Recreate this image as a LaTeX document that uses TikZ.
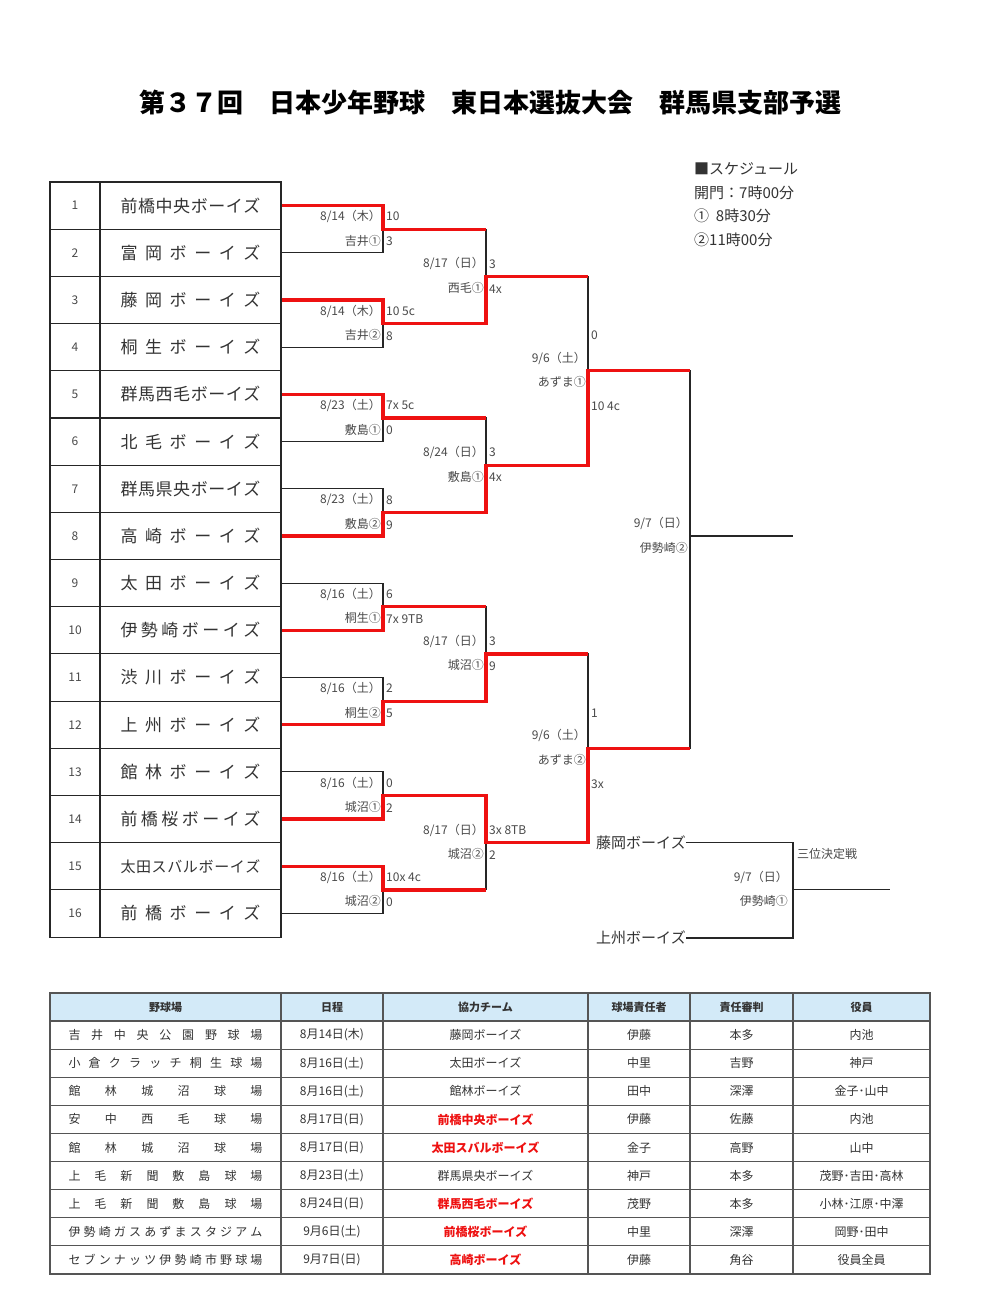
\documentclass[tikz,border=0pt]{standalone}
\usepackage{fontspec}
\setmainfont{Noto Sans CJK JP}
\definecolor{txt}{HTML}{333333}
\definecolor{lblc}{HTML}{4A4A4A}
\definecolor{wred}{HTML}{EE1111}
\definecolor{hdr}{HTML}{D3EAF8}
\definecolor{gridc}{HTML}{555555}
\makeatletter
\newcommand\sprd[2]{\makebox[#1][s]{\def\sprd@sep{}\@tfor\sprd@c:=#2\do{\sprd@sep\sprd@c\def\sprd@sep{\hfill}}}}
\makeatother
\begin{document}
\begin{tikzpicture}[x=1pt,y=-1pt,
  blk/.style={line width=1.1pt, draw=black!85},
  win/.style={line width=3.2pt, draw=wred, line join=miter},
  numcell/.style={draw=black!85, line width=1.1pt, minimum width=50, minimum height=47.19, inner sep=0pt, text=lblc, font=\fontsize{12}{12}\selectfont},
  namecell/.style={draw=black!85, line width=1.1pt, minimum width=181, minimum height=47.19, inner sep=0pt, text=txt},
  lbl/.style={inner sep=0pt, text=lblc, font=\fontsize{12}{12}\selectfont},
  sched/.style={inner sep=0pt, anchor=west, text=txt, font=\fontsize{15}{15}\selectfont},
  tcell/.style={draw=gridc, line width=1.2pt, inner sep=0pt, minimum height=28.11, text=txt, font=\fontsize{12}{12}\selectfont},
  hcell/.style={tcell, fill=hdr, font=\fontsize{11}{11}\selectfont\bfseries}
]
\path[fill=white, use as bounding box] (0,0) rectangle (998,1314);

% title
\node[inner sep=0pt, text=black, font=\fontsize{26}{26}\selectfont\bfseries] (title) at (490,103) {第３７回　日本少年野球　東日本選抜大会　群馬県支部予選};

% schedule
\node[sched] (sc1) at (694,169) {■スケジュール};
\node[sched] (sc2) at (694,193) {開門：7時00分};
\node[sched] (sc3) at (694,216) {①\ \ 8時30分};
\node[sched] (sc4) at (694,240) {②11時00分};

% team table
\newcommand\team[3]{%
 \node[numcell] (n#1) at (75, {182+(#1-0.5)*47.19}) {#1};
 \node[namecell] (t#1) at (190.5, {182+(#1-0.5)*47.19}) {\fontsize{#3}{#3}\selectfont\sprd{140pt}{#2}};
}
\team{1}{前橋中央ボーイズ}{17}
\team{2}{富岡ボーイズ}{17}
\team{3}{藤岡ボーイズ}{17}
\team{4}{桐生ボーイズ}{17}
\team{5}{群馬西毛ボーイズ}{17}
\team{6}{北毛ボーイズ}{17}
\team{7}{群馬県央ボーイズ}{17}
\team{8}{高崎ボーイズ}{17}
\team{9}{太田ボーイズ}{17}
\team{10}{伊勢崎ボーイズ}{17}
\team{11}{渋川ボーイズ}{17}
\team{12}{上州ボーイズ}{17}
\team{13}{館林ボーイズ}{17}
\team{14}{前橋桜ボーイズ}{17}
\team{15}{太田スバルボーイズ}{15}
\team{16}{前橋ボーイズ}{17}

% junctions
\coordinate (a1) at (383,229.2);
\coordinate (a2) at (383,323.6);
\coordinate (a3) at (383,418.0);
\coordinate (a4) at (383,512.4);
\coordinate (a5) at (383,606.7);
\coordinate (a6) at (383,701.1);
\coordinate (a7) at (383,795.5);
\coordinate (a8) at (383,889.9);
\coordinate (b1) at (486,276.4);
\coordinate (b2) at (486,465.2);
\coordinate (b3) at (486,653.9);
\coordinate (b4) at (486,842.7);
\coordinate (c1) at (588,370.8);
\coordinate (c2) at (588,748.3);
\coordinate (f) at (690,536);
\coordinate (fe) at (793,536);

% black bracket
\draw[blk] (t1.east) -| (a1) |- (t2.east);
\draw[blk] (t3.east) -| (a2) |- (t4.east);
\draw[blk] (t5.east) -| (a3) |- (t6.east);
\draw[blk] (t7.east) -| (a4) |- (t8.east);
\draw[blk] (t9.east) -| (a5) |- (t10.east);
\draw[blk] (t11.east) -| (a6) |- (t12.east);
\draw[blk] (t13.east) -| (a7) |- (t14.east);
\draw[blk] (t15.east) -| (a8) |- (t16.east);
\draw[blk] (a1) -| (b1) |- (a2);
\draw[blk] (a3) -| (b2) |- (a4);
\draw[blk] (a5) -| (b3) |- (a6);
\draw[blk] (a7) -| (b4) |- (a8);
\draw[blk] (b1) -| (c1) |- (b2);
\draw[blk] (b3) -| (c2) |- (b4);
\draw[blk] (c1) -| (f) |- (c2);
\draw[blk] (f) -- (fe);

% winners
\draw[win] (t1.east) -| (a1) -- (a1 -| b1);
\draw[win] (t3.east) -| (a2) -- (a2 -| b1) -- (b1) -- (b1 -| c1);
\draw[win] (t5.east) -| (a3) -- (a3 -| b2);
\draw[win] (t8.east) -| (a4) -- (a4 -| b2) -- (b2) -- (b2 -| c1) -- (c1) -- (c1 -| f);
\draw[win] (t10.east) -| (a5) -- (a5 -| b3);
\draw[win] (t12.east) -| (a6) -- (a6 -| b3) -- (b3) -- (b3 -| c2);
\draw[win] (t14.east) -| (a7) -- (a7 -| b4) -- (b4) -- (b4 -| c2) -- (c2) -- (c2 -| f);
\draw[win] (t15.east) -| (a8) -- (a8 -| b4);

% match labels
\newcommand\mlab[6]{%
 \node[lbl, anchor=east, xshift=-2pt, yshift=12.5pt] (#1d) at (#1) {#2};
 \node[lbl, anchor=east, xshift=-2pt, yshift=-11.5pt] (#1v) at (#1) {#3};
 \node[lbl, anchor=west, xshift=3pt, yshift=#6] (#1s) at (#1) {#4};
 \node[lbl, anchor=west, xshift=3pt, yshift=-#6] (#1t) at (#1) {#5};
}
\mlab{a1}{8/14（木）}{吉井①}{10}{3}{12.5pt}
\mlab{a2}{8/14（木）}{吉井②}{10 5c}{8}{12.5pt}
\mlab{a3}{8/23（土）}{敷島①}{7x 5c}{0}{12.5pt}
\mlab{a4}{8/23（土）}{敷島②}{8}{9}{12.5pt}
\mlab{a5}{8/16（土）}{桐生①}{6}{7x 9TB}{12.5pt}
\mlab{a6}{8/16（土）}{桐生②}{2}{5}{12.5pt}
\mlab{a7}{8/16（土）}{城沼①}{0}{2}{12.5pt}
\mlab{a8}{8/16（土）}{城沼②}{10x 4c}{0}{12.5pt}
\mlab{b1}{8/17（日）}{西毛①}{3}{4x}{12.5pt}
\mlab{b2}{8/24（日）}{敷島①}{3}{4x}{12.5pt}
\mlab{b3}{8/17（日）}{城沼①}{3}{9}{12.5pt}
\mlab{b4}{8/17（日）}{城沼②}{3x 8TB}{2}{12.5pt}
\mlab{c1}{9/6（土）}{あずま①}{0}{10 4c}{35.5pt}
\mlab{c2}{9/6（土）}{あずま②}{1}{3x}{35.5pt}
\node[lbl, anchor=east, xshift=-2pt, yshift=12.5pt] (fd) at (f) {9/7（日）};
\node[lbl, anchor=east, xshift=-2pt, yshift=-11.5pt] (fv) at (f) {伊勢崎②};

% third place
\node[inner sep=0pt, anchor=west, text=txt, font=\fontsize{15}{15}\selectfont] (p1) at (596,842.7) {藤岡ボーイズ};
\node[inner sep=0pt, anchor=west, text=txt, font=\fontsize{15}{15}\selectfont] (p2) at (596,938) {上州ボーイズ};
\coordinate (g) at (793,889.5);
\coordinate (ge) at (890,889.5);
\draw[blk] (p1.east) -| (g) |- (p2.east);
\draw[blk] (g) -- (ge);
\node[lbl, anchor=west, xshift=4pt] (tpl) at (793,854) {三位決定戦};
\node[lbl, anchor=east, xshift=-5pt, yshift=12.5pt] (gd) at (g) {9/7（日）};
\node[lbl, anchor=east, xshift=-5pt, yshift=-11.5pt] (gv) at (g) {伊勢崎①};

% bottom table
\newcommand\hrow{%
 \node[hcell, minimum width=231] (hv) at (165.5,1007) {野球場};
 \node[hcell, minimum width=102] (hd) at (332,1007) {日程};
 \node[hcell, minimum width=205] (hc) at (485.5,1007) {協力チーム};
 \node[hcell, minimum width=102] (hk) at (639,1007) {球場責任者};
 \node[hcell, minimum width=103] (hs) at (741.5,1007) {責任審判};
 \node[hcell, minimum width=137] (ho) at (861.5,1007) {役員};
}
\hrow
\newcommand\trow[8]{%
 \node[tcell, minimum width=231] (v#1) at (165.5,{1021+(#1-0.5)*28.11}) {\sprd{194pt}{#2}};
 \node[tcell, minimum width=102] (d#1) at (332,{1021+(#1-0.5)*28.11}) {#3};
 \node[tcell, minimum width=205, #8] (c#1) at (485.5,{1021+(#1-0.5)*28.11}) {#4};
 \node[tcell, minimum width=102] (k#1) at (639,{1021+(#1-0.5)*28.11}) {#5};
 \node[tcell, minimum width=103] (s#1) at (741.5,{1021+(#1-0.5)*28.11}) {#6};
 \node[tcell, minimum width=137] (o#1) at (861.5,{1021+(#1-0.5)*28.11}) {#7};
}
\tikzset{redt/.style={text=wred, font=\fontsize{12}{12}\selectfont\bfseries}, plain/.style={}}
\trow{1}{吉井中央公園野球場}{8月14日(木)}{藤岡ボーイズ}{伊藤}{本多}{内池}{plain}
\trow{2}{小倉クラッチ桐生球場}{8月16日(土)}{太田ボーイズ}{中里}{吉野}{神戸}{plain}
\trow{3}{館林城沼球場}{8月16日(土)}{館林ボーイズ}{田中}{深澤}{金子･山中}{plain}
\trow{4}{安中西毛球場}{8月17日(日)}{前橋中央ボーイズ}{伊藤}{佐藤}{内池}{redt}
\trow{5}{館林城沼球場}{8月17日(日)}{太田スバルボーイズ}{金子}{高野}{山中}{redt}
\trow{6}{上毛新聞敷島球場}{8月23日(土)}{群馬県央ボーイズ}{神戸}{本多}{茂野･吉田･高林}{plain}
\trow{7}{上毛新聞敷島球場}{8月24日(日)}{群馬西毛ボーイズ}{茂野}{本多}{小林･江原･中澤}{redt}
\trow{8}{伊勢崎ガスあずまスタジアム}{9月6日(土)}{前橋桜ボーイズ}{中里}{深澤}{岡野･田中}{redt}
\trow{9}{セブンナッツ伊勢崎市野球場}{9月7日(日)}{高崎ボーイズ}{伊藤}{角谷}{役員全員}{redt}
\end{tikzpicture}
\end{document}
